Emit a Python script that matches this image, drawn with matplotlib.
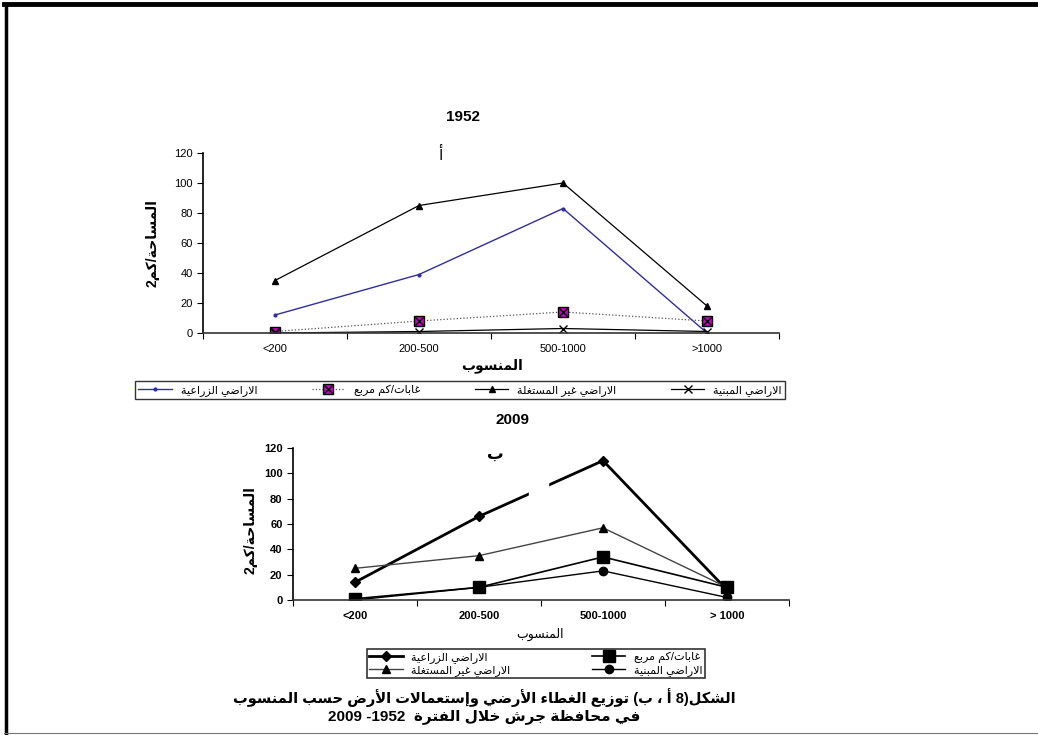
import re
import matplotlib
matplotlib.use('Agg')
import matplotlib.pyplot as plt
from matplotlib.lines import Line2D
from matplotlib.patches import Rectangle

plt.rcParams['font.family'] = ['Liberation Sans', 'DejaVu Sans']

# matplotlib does not join arabic letters, so shape them by hand
AR = 'ءآأؤإئابةتثجحخدذرزسشصضطظعغفقكلمنهوىي'
NF = [1, 2, 2, 2, 2, 4, 2, 4, 2, 4, 4, 4, 4, 4, 2, 2, 2, 2, 4, 4, 4, 4, 4, 4,
      4, 4, 4, 4, 4, 4, 4, 4, 4, 2, 2, 4]
FORMS = {}
code = 0xFE80
for ch, n in zip(AR, NF):
    FORMS[ch] = [chr(code + i) for i in range(n)]
    code += n
LAMALEF = {'آ': 0xFEF5, 'أ': 0xFEF7, 'إ': 0xFEF9, 'ا': 0xFEFB}


def shape(s):
    out = []
    link = False
    i = 0
    while i < len(s):
        ch = s[i]
        if ch not in FORMS:
            out.append(ch)
            link = False
            i += 1
            continue
        nxt = s[i + 1] if i + 1 < len(s) else ''
        if ch == 'ل' and nxt in LAMALEF:
            out.append(chr(LAMALEF[nxt] + (1 if link else 0)))
            link = False
            i += 2
            continue
        f = FORMS[ch]
        jn = len(f) == 4 and nxt in FORMS and len(FORMS[nxt]) > 1
        jp = link and len(f) > 1
        if jp and jn:
            g = f[3]
        elif jn:
            g = f[2]
        elif jp:
            g = f[1]
        else:
            g = f[0]
        out.append(g)
        link = jn
        i += 1
    return ''.join(out)


def ar(s):
    s = shape(s)
    runs = re.findall(r'[0-9A-Za-z]+|[^0-9A-Za-z]+', s)
    out = []
    for r in reversed(runs):
        if r[0].isascii() and r[0].isalnum():
            out.append(r)
        else:
            out.append(r[::-1].translate(str.maketrans('()', ')(')))
    return ''.join(out)


# данные
names = ['الاراضي الزراعية', 'غابات/كم مربع', 'الاراضي غير المستغلة', 'الاراضي المبنية']
cats_1952 = ['<200', '200-500', '500-1000', '>1000']
cats_2009 = ['<200', '200-500', '500-1000', '> 1000']

agri_1952 = [12, 39, 83, 0]
forest_1952 = [1, 8, 14, 8]
unused_1952 = [35, 85, 100, 18]
built_1952 = [0, 1, 3, 1]

agri_2009 = [14, 66, 110, 8]
forest_2009 = [1, 10, 34, 10]
unused_2009 = [25, 35, 57, 10]
built_2009 = [0, 10, 23, 2]

W, H = 1038, 735
fig = plt.figure(figsize=(W / 100, H / 100), dpi=100)


def px(x, y):
    return x / W, 1 - y / H


def setup(ax, cats, bold):
    xs = [i + 0.5 for i in range(len(cats))]
    ax.set_xlim(0, len(cats))
    ax.set_ylim(0, 120)
    ax.set_yticks(range(0, 121, 20))
    ax.set_xticks(range(len(cats) + 1))
    ax.set_xticklabels([])
    ax.set_xticks(xs, minor=True)
    ax.set_xticklabels(cats, minor=True, fontsize=8,
                       fontweight='bold' if bold else 'normal')
    ax.tick_params(axis='x', which='minor', length=0, pad=8)
    ax.tick_params(axis='x', which='major', length=4, direction='out')
    ax.tick_params(axis='y', length=4, direction='out', labelsize=8)
    if bold:
        for t in ax.get_yticklabels():
            t.set_fontweight('bold')
    for s in ['top', 'right']:
        ax.spines[s].set_visible(False)
    ax.spines['left'].set_linewidth(1.2)
    ax.spines['bottom'].set_linewidth(1.2)
    ax.spines['bottom'].set_color('#333333')
    return xs


# 1952
ax1 = fig.add_axes([203 / W, 1 - 333 / H, 576 / W, 180 / H])
xs = setup(ax1, cats_1952, False)
l1, = ax1.plot(xs, agri_1952, color='#2e2ea0', lw=1, marker='.', ms=4)
l2a, = ax1.plot(xs, forest_1952, color='#555555', lw=0.9, ls=':',
                marker='s', ms=7, mfc='#cc00cc', mec='black')
l2b, = ax1.plot(xs, forest_1952, ls='none', marker='x', ms=6, mec='black', mew=1)
l3, = ax1.plot(xs, unused_1952, color='black', lw=0.9, marker='^', ms=4)
l4, = ax1.plot(xs, built_1952, color='black', lw=0.9, marker='x', ms=6)

fig.text(*px(463, 117), '1952', fontsize=11, fontweight='bold', ha='center', va='center')
fig.text(*px(440, 155), ar('أ'), fontsize=11, ha='center', va='center')
fig.text(*px(153, 243), ar('المساحة/كم2'), fontsize=10, fontweight='bold',
         rotation=90, ha='center', va='center')
fig.text(*px(492, 366), ar('المنسوب'), fontsize=10, fontweight='bold', ha='center', va='center')

x0, y0 = px(135, 399)
x1, y1 = px(785, 377)
leg1 = fig.legend([l1, (l2a, l2b), l3, l4], [ar(n) for n in names],
                  loc='lower left', bbox_to_anchor=(x0, y0, x1 - x0, y1 - y0),
                  mode='expand', ncol=4, fontsize=8, frameon=True, fancybox=False,
                  edgecolor='black', borderaxespad=0, handlelength=3,
                  borderpad=0.3, columnspacing=1)
leg1.get_frame().set_linewidth(1)

# 2009
ax2 = fig.add_axes([293 / W, 1 - 600 / H, 496 / W, 152 / H])
xs = setup(ax2, cats_2009, True)
m1, = ax2.plot(xs, agri_2009, color='black', lw=2, marker='D', ms=5)
m4, = ax2.plot(xs, built_2009, color='black', lw=1, marker='o', ms=6)
m3, = ax2.plot(xs, unused_2009, color='#444444', lw=1, marker='^', ms=6,
               mfc='black', mec='black')
m2, = ax2.plot(xs, forest_2009, color='black', lw=1.2, marker='s', ms=8)
# white gap over the agriculture line
ax2.add_patch(Rectangle((1.90, 78), 0.16, 18, color='white', zorder=5))

fig.text(*px(512, 420), '2009', fontsize=11, fontweight='bold', ha='center', va='center')
fig.text(*px(495, 454), ar('ب'), fontsize=12, fontweight='bold', ha='center', va='center')
fig.text(*px(250, 530), ar('المساحة/كم2'), fontsize=10, fontweight='bold',
         rotation=90, ha='center', va='center')
fig.text(*px(540, 634), ar('المنسوب'), fontsize=9, ha='center', va='center')

x0, y0 = px(367, 678)
x1, y1 = px(705, 643)
leg2 = fig.legend([m1, m3, m2, m4], [ar(names[0]), ar(names[2]), ar(names[1]), ar(names[3])],
                  loc='lower left', bbox_to_anchor=(x0, y0, x1 - x0, y1 - y0),
                  mode='expand', ncol=2, fontsize=8, frameon=True, fancybox=False,
                  edgecolor='black', borderaxespad=0, handlelength=3,
                  borderpad=0.2, labelspacing=0.2, columnspacing=1)
leg2.get_frame().set_linewidth(1.2)

# подпись
fig.text(*px(484, 698), ar('الشكل(8 أ ، ب) توزيع الغطاء الأرضي وإستعمالات الأرض حسب المنسوب'),
         fontsize=10.5, fontweight='bold', ha='center', va='center')
fig.text(*px(484, 717), ar('في محافظة جرش خلال الفترة  1952- 2009'),
         fontsize=11, fontweight='bold', ha='center', va='center')

# рамка
fig.add_artist(Line2D([4 / W, 1], [1 - 4 / H, 1 - 4 / H], color='black', lw=3.5))
fig.add_artist(Line2D([5.5 / W, 5.5 / W], [0, 1 - 4 / H], color='black', lw=2.5))
fig.add_artist(Line2D([4 / W, 1], [1 - 733 / H, 1 - 733 / H], color='#777777', lw=0.8))

fig.savefig('out.png', dpi=100)
